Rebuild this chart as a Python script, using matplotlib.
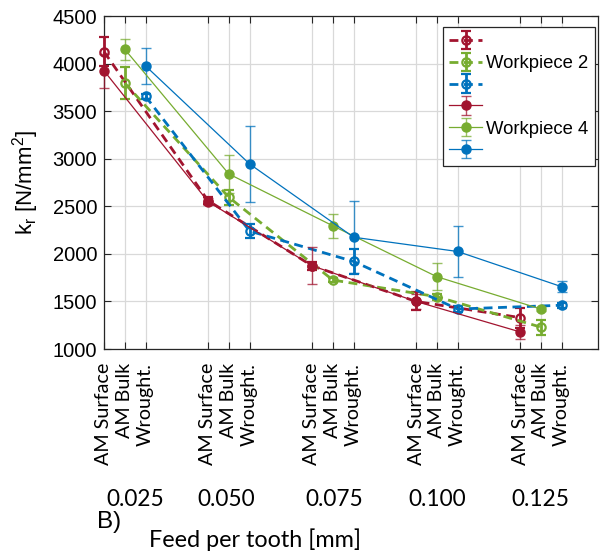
import matplotlib
matplotlib.use('Agg')
import matplotlib.pyplot as plt
import matplotlib.transforms as mtransforms
import numpy as np

plt.rcParams['font.family'] = ['Liberation Sans', 'DejaVu Sans']
plt.rcParams['mathtext.default'] = 'regular'

# 데이터
feeds = ['0.025', '0.050', '0.075', '0.100', '0.125']
materials = ['AM Surface', 'AM Bulk', 'Wrought.']

# Workpiece 2 (점선)
wp2_surface = [4125, 2560, 1875, 1500, 1330]
wp2_surface_err = [155, 40, 40, 95, 105]
wp2_bulk = [3795, 2595, 1725, 1550, 1230]
wp2_bulk_err = [165, 80, 20, 30, 80]
wp2_wrought = [3655, 2240, 1920, 1420, 1460]
wp2_wrought_err = [30, 70, 130, 30, 25]

# Workpiece 4 (실선)
wp4_surface = [3925, 2550, 1875, 1500, 1180]
wp4_surface_err = [180, 40, 195, 80, 70]
wp4_bulk = [4150, 2840, 2295, 1760, 1420]
wp4_bulk_err = [110, 200, 125, 140, 20]
wp4_wrought = [3975, 2945, 2175, 2025, 1655]
wp4_wrought_err = [185, 395, 380, 270, 55]

red = '#A2142F'
green = '#77AC30'
blue = '#0072BD'
colors = [red, green, blue]
offsets = [-0.2, 0.0, 0.2]

fig = plt.figure(figsize=(6.0, 5.56), dpi=100)
ax = fig.add_axes([0.1733, 0.3723, 0.8234, 0.5989])

x = np.arange(len(feeds))
handles = []

wp2 = [(wp2_surface, wp2_surface_err), (wp2_bulk, wp2_bulk_err), (wp2_wrought, wp2_wrought_err)]
wp4 = [(wp4_surface, wp4_surface_err), (wp4_bulk, wp4_bulk_err), (wp4_wrought, wp4_wrought_err)]

for (vals, err), c, off in zip(wp2, colors, offsets):
    h = ax.errorbar(x + off, vals, yerr=err, color=c, ecolor=c, lw=2.0, ls=(0, (3.2, 2.0)),
                    marker='o', ms=6, mfc='none', mec=c, mew=1.6,
                    elinewidth=2.0, capsize=3.5, capthick=2.2, zorder=3)
    for a in h.get_children():
        a.set_clip_on(False)
    handles.append(h)

for (vals, err), c, off in zip(wp4, colors, offsets):
    h = ax.errorbar(x + off, vals, yerr=err, color=c, ecolor=c, lw=0.9, ls='-',
                    marker='o', ms=6.5, mfc=c, mec=c,
                    elinewidth=1.0, capsize=3.5, capthick=1.0, zorder=4)
    for a in h[2]:
        a.set_alpha(0.75)
    for a in h[1]:
        a.set_alpha(0.75)
    for a in h.get_children():
        a.set_clip_on(False)
    handles.append(h)

ticks = [xi + off for xi in x for off in offsets]
ax.set_xticks(ticks)
ax.set_xticklabels(materials * len(feeds), rotation=90, family=['Lato', 'DejaVu Sans'],
                   fontsize=14.2, va='top', ha='center')
ax.set_xlim(-0.2, 4.55)
ax.set_ylim(1000, 4500)
ax.set_yticks(np.arange(1000, 4501, 500))
ax.tick_params(axis='y', labelsize=14.5, direction='in', right=True, pad=5, length=5, colors='#262626')
ax.tick_params(axis='x', direction='in', top=True, pad=10, length=5, colors='#262626')
for lab in ax.get_xticklabels() + ax.get_yticklabels():
    lab.set_color('#000000')
ax.grid(True, color='#d9d9d9', lw=0.9)
ax.set_axisbelow(True)
for s in ax.spines.values():
    s.set_color('#262626')
    s.set_linewidth(0.9)

ax.set_ylabel('k$_r$ [N/mm$^2$]', fontsize=16, labelpad=8)

leg = ax.legend(handles, [' ', 'Workpiece 2', ' ', ' ', 'Workpiece 4', ' '],
                loc='upper right', bbox_to_anchor=(0.9935, 0.967), fontsize=13.3,
                fancybox=False, edgecolor='#262626', framealpha=1,
                handlelength=1.8, handletextpad=0.2, labelspacing=0.26,
                borderpad=0.35, borderaxespad=0)
leg.get_frame().set_linewidth(0.9)

# 이송 라벨
feed_pos = [0.096, 0.976, 2.01, 3.0, 4.0]
trans = mtransforms.blended_transform_factory(ax.transData, fig.transFigure)
for fx, lab in zip(feed_pos, feeds):
    ax.text(fx, 0.1025, lab, transform=trans, ha='center', va='center',
            fontsize=16.3, family=['Lato', 'DejaVu Sans'])

fig.text(0.425, 0.029, 'Feed per tooth [mm]', ha='center', va='center',
         fontsize=16.8, family=['Lato', 'DejaVu Sans'])
fig.text(0.162, 0.062, 'B)', ha='left', va='center', fontsize=17.5)

fig.savefig('out.png', dpi=100)
